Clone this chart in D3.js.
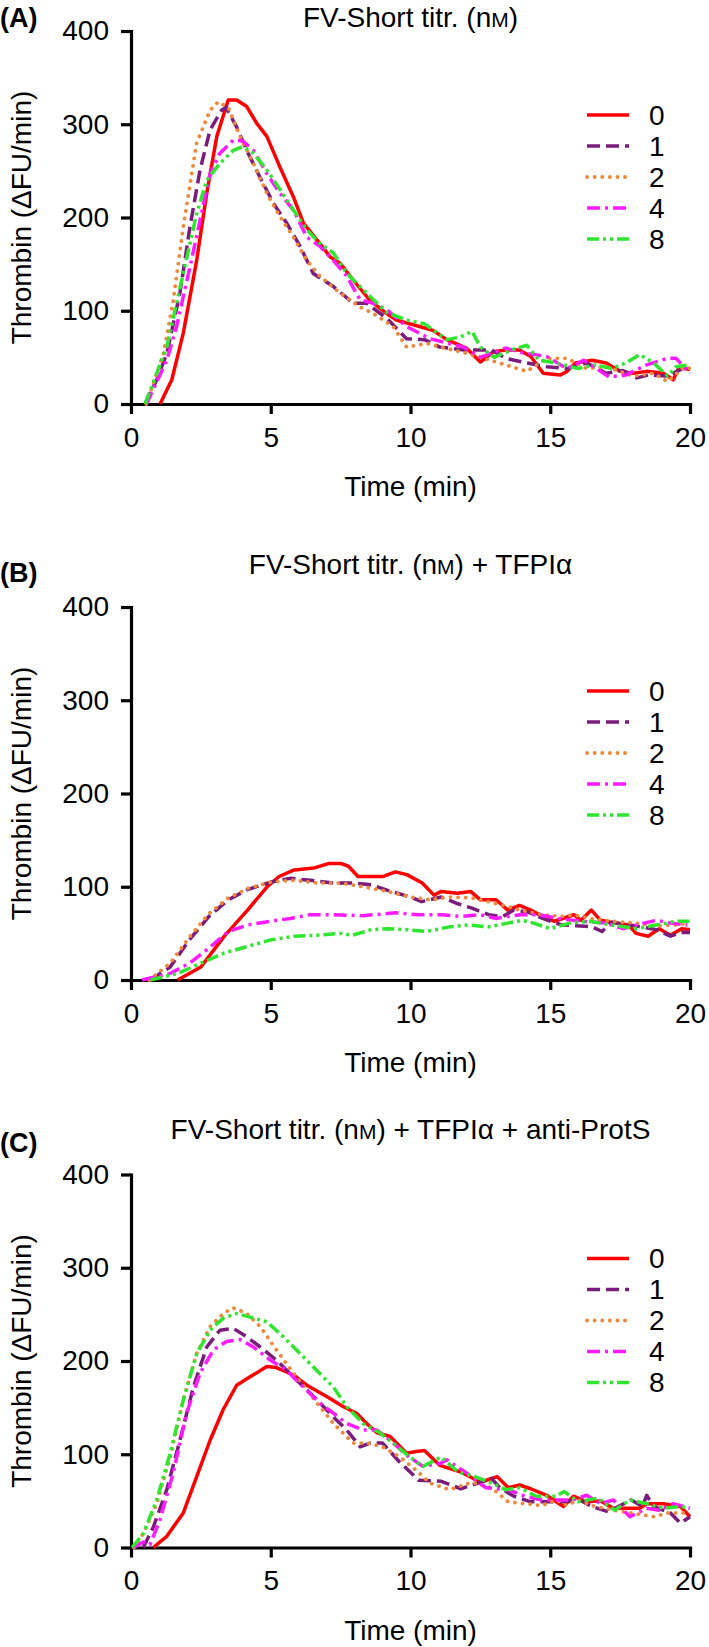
<!DOCTYPE html>
<html>
<head>
<meta charset="utf-8">
<script src="https://cdn.jsdelivr.net/npm/d3@7"></script>
<style>
  body { margin: 0; background: #fff; }
  svg { display: block; font-family: Helvetica, Arial, "Liberation Sans", sans-serif; }
</style>
</head>
<body>
<svg id="chart"></svg>
<script>
// axis ticks and legend entries (FV-Short, nM)
const xTicks = [0, 5, 10, 15, 20];
const yTicks = [0, 100, 200, 300, 400];
const seriesLabels = ['0', '1', '2', '4', '8'];
const panelLetters = ['(A)', '(B)', '(C)'];
const titleSuffixes = ['', ' + TFPIα', ' + TFPIα + anti-ProtS'];

// [time (min), thrombin (dFU/min)]
// (A) FV-Short titration
const panelA0 = [[1.04,0],[1.46,26],[1.87,76],[2.35,154],[2.71,226],[3.07,287],[3.48,326],[3.78,326],[4.14,319],[4.5,301],[4.86,287],[5.33,254],[5.81,222],[6.17,194],[6.76,172],[7.12,158],[7.48,151],[7.95,133],[8.55,111],[9.15,97],[9.5,90],[10.1,85],[10.8,79],[11.3,69],[12.0,60],[12.5,45],[12.96,56],[13.4,58],[13.9,58],[14.3,51],[14.75,33],[15.35,31],[15.6,35],[15.9,44],[16.5,47],[17.0,44],[17.5,35],[17.97,33],[18.45,35],[19.05,33],[19.4,26],[19.6,39],[20,37]];
const panelA1 = [[0.5,0],[0.92,26],[1.28,54],[1.75,119],[2.11,190],[2.47,251],[2.83,294],[3.24,315],[3.4,318],[3.78,297],[4.14,272],[4.6,244],[5.1,215],[5.57,194],[6.05,169],[6.52,140],[7.24,126],[7.95,108],[8.43,108],[9.15,92],[9.86,70],[10.5,69],[11.05,61],[11.9,58],[12.9,58],[13.4,49],[14.16,44],[14.87,40],[15.6,38],[16.3,44],[17.0,33],[17.6,36],[18.1,28],[18.5,31],[19.2,30],[19.8,39],[20,38]];
const panelA2 = [[0.55,0],[1.16,54],[1.51,111],[1.87,190],[2.35,280],[2.83,315],[3.12,324],[3.48,318],[3.9,287],[4.38,258],[4.86,226],[5.33,201],[5.81,179],[6.29,154],[6.76,137],[7.48,119],[8.19,104],[8.67,97],[9.38,83],[9.86,61],[10.6,65],[11.2,60],[11.8,56],[12.5,50],[13.4,42],[14.16,35],[14.87,49],[15.6,49],[16.3,38],[17.0,40],[17.97,30],[18.7,33],[19.2,24],[19.8,40],[20,38]];
const panelA4 = [[0.55,0],[1.28,47],[1.63,83],[2.11,147],[2.47,197],[2.83,247],[3.18,269],[3.66,283],[4.0,282],[4.38,272],[4.86,247],[5.33,226],[5.81,208],[6.29,179],[6.76,169],[7.24,154],[7.72,137],[8.19,112],[8.67,108],[9.15,101],[9.86,83],[10.7,70],[11.9,61],[12.5,50],[13.4,60],[14.0,55],[14.87,51],[15.6,38],[16.2,47],[17.1,29],[17.7,31],[18.45,42],[19.2,49],[19.5,49],[20,33]];
const panelA8 = [[0.5,0],[1.28,61],[1.87,140],[2.35,204],[2.71,240],[3.18,258],[3.66,272],[4.0,276],[4.38,269],[4.86,251],[5.33,230],[5.81,208],[6.29,187],[6.76,172],[7.24,162],[7.72,140],[8.43,119],[9.15,98],[9.86,90],[10.5,86],[11.3,69],[11.8,72],[12.2,78],[12.5,61],[13.0,50],[13.6,58],[14.16,63],[14.6,47],[15.2,44],[16.0,38],[16.6,42],[17.2,38],[17.7,44],[18.2,53],[18.7,44],[19.2,30],[19.5,40],[20,42]];

// (B) + TFPIalpha
const panelB0 = [[1.67,0],[2.5,14],[3.34,47],[4.17,75],[4.87,100],[5.3,111],[5.84,118],[6.53,120],[7.09,125],[7.5,125],[7.78,122],[8.12,111],[8.6,111],[9.03,111],[9.46,116],[9.87,113],[10.42,104],[10.84,91],[11.1,95],[11.67,93],[12.15,95],[12.5,86],[13.06,86],[13.48,75],[13.9,80],[14.3,75],[14.73,68],[15.15,63],[15.84,70],[16.1,64],[16.47,75],[16.8,64],[17.37,61],[17.8,59],[18.07,50],[18.5,47],[18.9,55],[19.3,48],[19.7,55],[20,54]];
const panelB1 = [[0.7,0],[1.4,14],[2.09,43],[2.78,68],[3.48,86],[4.17,97],[5.0,105],[5.69,109],[6.4,107],[7.23,104],[7.92,104],[8.6,102],[9.3,95],[10.0,89],[10.4,84],[11.1,89],[11.67,82],[12.2,77],[12.8,70],[13.3,68],[13.7,75],[14.2,73],[14.73,66],[15.4,59],[16.1,58],[16.5,57],[16.85,52],[17.2,62],[18.07,58],[18.8,54],[19.3,47],[19.7,51],[20,51]];
const panelB2 = [[0.65,0],[1.4,18],[2.09,46],[2.78,71],[3.48,88],[4.17,98],[5.0,105],[5.84,107],[6.67,104],[7.5,104],[8.3,100],[9.17,95],[10.0,89],[10.7,86],[11.4,89],[12.2,88],[12.8,84],[13.3,80],[13.9,75],[14.73,70],[15.4,68],[15.84,70],[16.4,66],[17.2,63],[18.07,61],[18.8,58],[19.5,59],[20,61]];
const panelB4 = [[0.4,0],[1.4,7],[2.09,18],[2.78,34],[3.48,52],[4.17,59],[5.0,63],[5.7,66],[6.4,70],[7.23,70],[8.3,69],[9.46,72],[10.3,70],[11.1,70],[11.8,68],[12.5,70],[13.06,66],[13.9,70],[14.6,70],[15.3,66],[16.1,63],[17.0,61],[17.6,55],[18.35,61],[18.8,64],[19.3,61],[19.9,59]];
const panelB8 = [[0.7,0],[1.67,7],[2.5,18],[3.34,29],[4.17,36],[5.0,43],[5.84,47],[6.67,48],[7.5,50],[7.92,48],[8.6,54],[9.17,55],[9.87,54],[10.56,52],[11.4,57],[12.05,59],[12.8,57],[13.48,61],[14.0,64],[14.4,61],[15.0,55],[15.7,61],[16.4,63],[17.2,59],[18.07,55],[18.8,59],[19.5,63],[20,63]];

// (C) + TFPIalpha + anti-ProtS
const panelC0 = [[0.8,0],[1.28,12],[1.87,37],[2.35,76],[2.83,115],[3.3,148],[3.78,174],[4.26,183],[4.86,194],[5.2,193],[5.81,185],[6.29,174],[7.0,162],[7.6,151],[8.07,144],[8.43,133],[8.8,123],[9.27,119],[9.86,101],[10.2,103],[10.5,104],[11.05,88],[11.8,81],[12.5,70],[13.1,76],[13.5,64],[13.9,67],[14.3,63],[14.87,56],[15.47,44],[15.83,55],[16.3,49],[16.8,50],[17.26,42],[18.2,42],[18.45,47],[19.05,47],[19.66,44],[20,33]];
const panelC1 = [[0.44,0],[0.8,22],[1.28,62],[1.75,115],[2.23,172],[2.71,215],[3.18,233],[3.66,235],[4.14,226],[4.62,215],[5.2,201],[5.81,183],[6.29,169],[6.76,155],[7.24,140],[7.72,126],[8.2,108],[8.55,112],[9.0,112],[9.6,92],[10.3,72],[11.1,71],[11.8,63],[12.5,70],[12.9,74],[13.2,64],[13.7,55],[14.3,49],[14.87,49],[15.47,49],[16.05,51],[16.5,44],[17.1,38],[17.5,45],[17.9,51],[18.3,44],[18.45,56],[18.7,44],[19.3,37],[19.66,26],[20,33]];
const panelC2 = [[0.1,0],[0.44,15],[0.92,47],[1.4,97],[1.87,158],[2.35,208],[2.83,237],[3.3,251],[3.66,257],[4.14,251],[4.62,237],[5.2,212],[5.81,187],[6.29,169],[6.76,151],[7.24,133],[7.95,112],[8.43,112],[9.0,108],[9.62,97],[10.2,83],[10.7,69],[11.4,62],[12.2,70],[12.9,64],[13.5,49],[14.1,47],[14.7,45],[15.2,51],[15.6,45],[16.0,51],[16.6,44],[17.26,40],[17.9,37],[18.7,33],[19.2,37],[19.9,37]];
const panelC4 = [[0.1,0],[0.44,6],[0.68,3],[1.04,30],[1.51,80],[1.99,144],[2.47,187],[2.95,212],[3.42,221],[3.9,223],[4.38,215],[4.98,201],[5.57,190],[6.17,172],[6.76,155],[7.24,144],[7.72,133],[8.3,126],[8.8,126],[9.27,115],[9.86,99],[10.44,87],[11.05,90],[11.3,94],[12.0,80],[12.7,64],[13.5,62],[14.1,55],[14.7,51],[15.3,51],[15.8,51],[16.3,56],[16.8,47],[17.26,51],[17.85,33],[18.45,42],[18.9,40],[19.4,47],[20,42]];
const panelC8 = [[0.04,0],[0.44,15],[0.92,51],[1.4,101],[1.87,158],[2.35,208],[2.83,233],[3.3,246],[3.78,251],[4.26,247],[4.86,242],[5.45,226],[6.05,208],[6.64,190],[7.24,172],[7.72,151],[8.3,133],[8.9,123],[9.38,112],[9.98,97],[10.44,87],[11.1,97],[11.7,81],[12.3,76],[12.9,69],[13.4,62],[13.9,64],[14.5,55],[15.2,55],[15.5,60],[16.0,49],[16.7,53],[17.3,40],[17.85,51],[18.45,47],[19.05,42],[19.66,44],[20,42]];

// one style per FV-Short concentration
const lineStyles = [
  { color: '#ff0000', dash: null, cap: 'butt' },
  { color: '#7b1c7c', dash: '13,6', cap: 'butt' },
  { color: '#f0883a', dash: '0.1,7.5', cap: 'round' },
  { color: '#ff1aff', dash: '13,5,3,5', cap: 'butt' },
  { color: '#2ee62e', dash: '12,4,3,4,3,4', cap: 'butt' },
];

class TitrationPanel {
  constructor(_config, _series) {
    this.config = {
      parentElement: _config.parentElement,
      x0: _config.x0,
      x1: _config.x1,
      y0: _config.y0,
      plotHeight: _config.plotHeight,
      titleY: _config.titleY,
      letterY: _config.letterY,
      letter: _config.letter,
      suffix: _config.suffix,
    };
    this.series = _series;
    this.initVis();
  }

  initVis() {
    const vis = this;
    const { parentElement, x0, x1, y0, plotHeight } = vis.config;

    vis.xScale = d3.scaleLinear().domain([0, 20]).range([x0, x1]);
    vis.yScale = d3.scaleLinear().domain([0, 400]).range([y0, y0 - plotHeight]);

    vis.chart = d3.select(parentElement).append('g');

    const yAxis = d3.axisLeft(vis.yScale)
      .tickValues(yTicks)
      .tickSize(10)
      .tickSizeOuter(0)
      .tickPadding(12);

    const xAxis = d3.axisBottom(vis.xScale)
      .tickValues(xTicks)
      .tickSize(10)
      .tickSizeOuter(0)
      .tickPadding(13);

    vis.chart.append('g')
      .attr('transform', `translate(${x0},0)`)
      .call(yAxis);

    vis.chart.append('g')
      .attr('transform', `translate(0,${y0})`)
      .call(xAxis);

    vis.chart.selectAll('.domain')
      .attr('stroke', '#000')
      .attr('stroke-width', 3.2)
      .attr('stroke-linecap', 'square');
    vis.chart.selectAll('.tick line')
      .attr('stroke', '#000')
      .attr('stroke-width', 3.2);
    vis.chart.selectAll('.tick text')
      .attr('fill', '#000')
      .attr('font-size', 28)
      .attr('font-family', 'Helvetica, Arial, "Liberation Sans", sans-serif');

    this.renderLabels();
  }

  renderLabels() {
    const vis = this;
    const { x0, x1, y0, plotHeight, titleY, letterY, letter, suffix } = vis.config;
    const midX = (x0 + x1) / 2;

    vis.chart.append('text')
      .attr('x', 0)
      .attr('y', letterY)
      .attr('font-size', 27)
      .attr('font-weight', 'bold')
      .text(letter);

    // nM is typeset with a small-caps M
    const title = vis.chart.append('text')
      .attr('x', midX)
      .attr('y', titleY)
      .attr('text-anchor', 'middle')
      .attr('font-size', 28);
    title.append('tspan').text('FV-Short titr. (n');
    title.append('tspan').attr('font-size', 21).text('M');
    title.append('tspan').text(`)${suffix}`);

    vis.chart.append('text')
      .attr('transform', `translate(31,${y0 - plotHeight / 2}) rotate(-90)`)
      .attr('text-anchor', 'middle')
      .attr('font-size', 28)
      .text('Thrombin (ΔFU/min)');

    vis.chart.append('text')
      .attr('x', midX)
      .attr('y', y0 + 92)
      .attr('text-anchor', 'middle')
      .attr('font-size', 28)
      .text('Time (min)');
  }

  renderVis() {
    const vis = this;
    const { y0, plotHeight } = vis.config;

    const line = d3.line()
      .x((d) => vis.xScale(d[0]))
      .y((d) => vis.yScale(d[1]));

    vis.chart.selectAll('path.curve')
      .data(vis.series)
      .join('path')
      .attr('class', 'curve')
      .attr('fill', 'none')
      .attr('stroke', (_d, i) => lineStyles[i].color)
      .attr('stroke-width', (_d, i) => (i === 2 ? 3.8 : 3.5))
      .attr('stroke-linecap', (_d, i) => lineStyles[i].cap)
      .attr('stroke-linejoin', 'round')
      .attr('stroke-dasharray', (_d, i) => lineStyles[i].dash)
      .attr('d', line);

    // legend, top right of the plot
    const legendTop = y0 - plotHeight + 84;
    const legend = vis.chart.selectAll('g.legend-row')
      .data(seriesLabels)
      .join('g')
      .attr('class', 'legend-row')
      .attr('transform', (_d, i) => `translate(0,${legendTop + i * 31})`);

    legend.append('line')
      .attr('x1', 587)
      .attr('x2', 629)
      .attr('stroke', (_d, i) => lineStyles[i].color)
      .attr('stroke-width', (_d, i) => (i === 2 ? 3.8 : 3.5))
      .attr('stroke-linecap', (_d, i) => lineStyles[i].cap)
      .attr('stroke-dasharray', (_d, i) => lineStyles[i].dash);

    legend.append('text')
      .attr('x', 649)
      .attr('dy', '0.35em')
      .attr('font-size', 28)
      .text((d) => d);
  }
}

d3.select('#chart')
  .attr('width', 709)
  .attr('height', 1647);

const panels = [
  { y0: 404, titleY: 27, letterY: 27, series: [panelA0, panelA1, panelA2, panelA4, panelA8] },
  { y0: 980, titleY: 574, letterY: 582, series: [panelB0, panelB1, panelB2, panelB4, panelB8] },
  { y0: 1547.5, titleY: 1139, letterY: 1152, series: [panelC0, panelC1, panelC2, panelC4, panelC8] },
];

panels.forEach((p, i) => {
  new TitrationPanel({
    parentElement: '#chart',
    x0: 131,
    x1: 690,
    y0: p.y0,
    plotHeight: 373,
    titleY: p.titleY,
    letterY: p.letterY,
    letter: panelLetters[i],
    suffix: titleSuffixes[i],
  }, p.series).renderVis();
});
</script>
</body>
</html>
